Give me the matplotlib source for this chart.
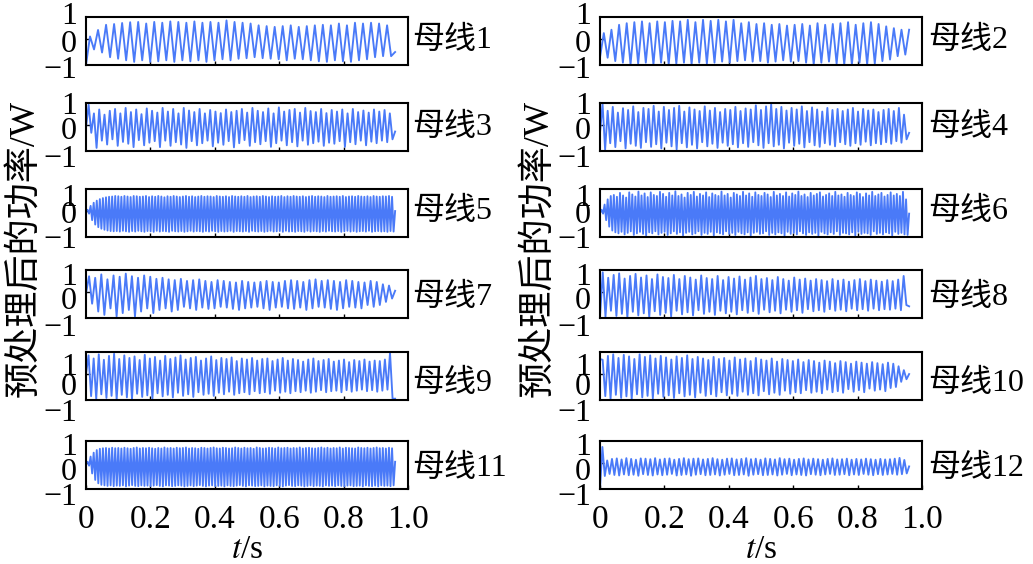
import numpy as np
import matplotlib.pyplot as plt

plt.rcParams['font.family'] = ['Liberation Serif', 'Noto Sans CJK SC']
plt.rcParams['mathtext.fontset'] = 'stix'

# 各母线预处理后的功率：逐周期读出的波峰/波谷值
T_END = 0.96

bus1_start, bus1_end = -1.0, -0.50
bus1_peaks = [0.10, 0.35, 0.55, 0.58, 0.62, 0.65, 0.66, 0.60, 0.66, 0.63,
              0.68, 0.66, 0.63, 0.68, 0.63, 0.66, 0.63, 0.72, 0.66, 0.63,
              0.60, 0.53, 0.50, 0.47, 0.50, 0.53, 0.47, 0.50, 0.53, 0.55,
              0.53, 0.60, 0.53, 0.63, 0.60, 0.63, 0.60, 0.53]
bus1_troughs = [-0.40, -0.52, -0.70, -0.76, -0.82, -0.88, -0.82, -0.88, -0.86, -0.82,
                -0.88, -0.82, -0.86, -0.82, -0.88, -0.82, -0.78, -0.82, -0.76, -0.74,
                -0.70, -0.74, -0.76, -0.78, -0.82, -0.76, -0.78, -0.82, -0.86, -0.88,
                -0.82, -0.86, -0.88, -0.82, -0.78, -0.70, -0.66, -0.66]

bus2_start, bus2_end = -0.70, 0.36
bus2_peaks = [0.23, 0.36, 0.55, 0.61, 0.65, 0.68, 0.61, 0.68, 0.65, 0.70,
              0.68, 0.74, 0.65, 0.74, 0.70, 0.74, 0.68, 0.74, 0.61, 0.65,
              0.58, 0.61, 0.55, 0.58, 0.52, 0.55, 0.58, 0.52, 0.61, 0.55,
              0.58, 0.61, 0.65, 0.55, 0.61, 0.65, 0.58, 0.49, 0.42, 0.36]
bus2_troughs = [-0.72, -0.85, -0.91, -0.98, -0.95, -0.91, -0.98, -0.91, -0.98, -0.95,
                -0.91, -0.98, -0.91, -0.95, -0.91, -0.87, -0.91, -0.85, -0.82, -0.87,
                -0.85, -0.91, -0.87, -0.82, -0.87, -0.85, -0.91, -0.98, -0.91, -0.87,
                -0.95, -0.98, -0.99, -0.91, -0.98, -0.95, -0.85, -0.79, -0.66, -0.60]

bus3_start, bus3_end = -0.10, -0.25
bus3_peaks = [0.78, 0.45, 0.60, 0.40, 0.55, 0.62, 0.45, 0.66, 0.50, 0.60,
              0.42, 0.64, 0.55, 0.48, 0.66, 0.52, 0.62, 0.45, 0.66, 0.56,
              0.50, 0.62, 0.45, 0.58, 0.52, 0.46, 0.60, 0.50, 0.55, 0.62,
              0.48, 0.66, 0.55, 0.50, 0.64, 0.45, 0.68, 0.52, 0.58, 0.62,
              0.48, 0.66, 0.54, 0.50, 0.62, 0.46, 0.58, 0.52, 0.60, 0.45,
              0.62, 0.50, 0.56, 0.48, 0.60, 0.52, 0.58, 0.45]
bus3_troughs = [-0.30, -0.88, -0.60, -0.75, -0.55, -0.80, -0.65, -0.72, -0.85, -0.58,
                -0.78, -0.68, -0.62, -0.85, -0.60, -0.80, -0.66, -0.75, -0.88, -0.62,
                -0.78, -0.70, -0.60, -0.82, -0.68, -0.76, -0.62, -0.86, -0.70, -0.58,
                -0.80, -0.66, -0.74, -0.62, -0.84, -0.70, -0.60, -0.78, -0.66, -0.82,
                -0.60, -0.76, -0.70, -0.64, -0.80, -0.68, -0.72, -0.62, -0.84, -0.66,
                -0.74, -0.60, -0.78, -0.64, -0.70, -0.60, -0.66, -0.55]

bus4_start, bus4_end = -0.30, -0.30
bus4_peaks = [0.82, 0.55, 0.70, 0.48, 0.65, 0.58, 0.72, 0.50, 0.66, 0.62,
              0.74, 0.52, 0.70, 0.58, 0.66, 0.74, 0.52, 0.68, 0.60, 0.54,
              0.72, 0.56, 0.66, 0.50, 0.62, 0.58, 0.70, 0.54, 0.64, 0.60,
              0.76, 0.58, 0.72, 0.80, 0.62, 0.70, 0.56, 0.66, 0.60, 0.72,
              0.54, 0.68, 0.60, 0.52, 0.66, 0.58, 0.62, 0.54, 0.60, 0.66,
              0.52, 0.62, 0.56, 0.60, 0.50, 0.58, 0.62, 0.54, 0.66, 0.40]
bus4_troughs = [-0.95, -0.70, -0.85, -0.62, -0.90, -0.72, -0.80, -0.88, -0.66, -0.84,
                -0.74, -0.90, -0.68, -0.82, -0.94, -0.70, -0.86, -0.76, -0.90, -0.66,
                -0.82, -0.72, -0.88, -0.68, -0.80, -0.74, -0.86, -0.70, -0.84, -0.66,
                -0.78, -0.88, -0.70, -0.82, -0.76, -0.90, -0.68, -0.80, -0.72, -0.86,
                -0.66, -0.78, -0.84, -0.70, -0.76, -0.82, -0.66, -0.74, -0.80, -0.70,
                -0.76, -0.64, -0.78, -0.70, -0.74, -0.66, -0.72, -0.62, -0.68, -0.55]

bus5_start, bus5_end = 0.0, 0.0
bus5_peaks = [0.05, 0.20, 0.32, 0.40, 0.46, 0.50, 0.53, 0.55, 0.56, 0.58,
              0.57, 0.55, 0.58, 0.56, 0.54, 0.58, 0.57, 0.55, 0.56, 0.58,
              0.54, 0.57, 0.55, 0.58, 0.56, 0.53, 0.57, 0.55, 0.58, 0.56,
              0.54, 0.56, 0.58, 0.55, 0.57, 0.54, 0.56, 0.58, 0.55, 0.57,
              0.56, 0.54, 0.58, 0.56, 0.55, 0.57, 0.54, 0.58, 0.56, 0.55,
              0.57, 0.55, 0.58, 0.54, 0.56, 0.57, 0.55, 0.58, 0.56, 0.54,
              0.57, 0.55, 0.56, 0.58, 0.54, 0.57, 0.55, 0.58, 0.56, 0.55,
              0.57, 0.54, 0.56, 0.58, 0.55, 0.57, 0.56, 0.54, 0.58, 0.55,
              0.56, 0.57, 0.55, 0.58, 0.54, 0.56, 0.57, 0.55, 0.58, 0.56,
              0.55, 0.57, 0.54, 0.58, 0.56, 0.55, 0.57, 0.56, 0.58, 0.55]
bus5_troughs = [-0.10, -0.35, -0.52, -0.62, -0.68, -0.72, -0.75, -0.77, -0.78, -0.77,
                -0.79, -0.76, -0.78, -0.80, -0.77, -0.79, -0.76, -0.78, -0.80, -0.77,
                -0.78, -0.80, -0.76, -0.79, -0.77, -0.78, -0.80, -0.76, -0.78, -0.79,
                -0.77, -0.80, -0.78, -0.76, -0.79, -0.77, -0.78, -0.80, -0.77, -0.79,
                -0.76, -0.78, -0.80, -0.77, -0.79, -0.78, -0.76, -0.80, -0.77, -0.78,
                -0.79, -0.77, -0.80, -0.76, -0.78, -0.79, -0.77, -0.80, -0.78, -0.76,
                -0.79, -0.78, -0.77, -0.80, -0.76, -0.79, -0.78, -0.80, -0.77, -0.78,
                -0.80, -0.76, -0.79, -0.77, -0.78, -0.80, -0.77, -0.79, -0.76, -0.78,
                -0.79, -0.77, -0.80, -0.78, -0.76, -0.79, -0.77, -0.80, -0.78, -0.77,
                -0.79, -0.76, -0.80, -0.78, -0.77, -0.79, -0.78, -0.80, -0.77, -0.79]

bus6_start, bus6_end = -0.05, -0.10
bus6_peaks = [0.05, 0.25, 0.45, 0.58, 0.62, 0.55, 0.70, 0.60, 0.52, 0.72,
              0.64, 0.56, 0.75, 0.60, 0.68, 0.54, 0.72, 0.62, 0.58, 0.74,
              0.66, 0.55, 0.70, 0.60, 0.76, 0.58, 0.64, 0.52, 0.70, 0.62,
              0.74, 0.56, 0.66, 0.60, 0.72, 0.54, 0.68, 0.62, 0.58, 0.75,
              0.60, 0.66, 0.52, 0.70, 0.64, 0.58, 0.74, 0.60, 0.68, 0.55,
              0.72, 0.62, 0.58, 0.70, 0.64, 0.54, 0.74, 0.60, 0.66, 0.58,
              0.72, 0.56, 0.68, 0.62, 0.75, 0.58, 0.64, 0.54, 0.70, 0.60,
              0.66, 0.72, 0.56, 0.62, 0.68, 0.58, 0.74, 0.60, 0.64, 0.55,
              0.70, 0.62, 0.58, 0.72, 0.66, 0.54, 0.68, 0.60, 0.74, 0.58,
              0.64, 0.70, 0.56, 0.62, 0.72, 0.60, 0.66, 0.58, 0.74, 0.45]
bus6_troughs = [-0.10, -0.35, -0.60, -0.75, -0.82, -0.86, -0.80, -0.90, -0.84, -0.78,
                -0.92, -0.86, -0.80, -0.88, -0.94, -0.82, -0.86, -0.78, -0.90, -0.84,
                -0.80, -0.92, -0.86, -0.78, -0.88, -0.82, -0.94, -0.84, -0.80, -0.90,
                -0.86, -0.78, -0.92, -0.84, -0.88, -0.80, -0.94, -0.82, -0.86, -0.90,
                -0.78, -0.88, -0.84, -0.92, -0.80, -0.86, -0.90, -0.82, -0.94, -0.84,
                -0.80, -0.88, -0.86, -0.78, -0.92, -0.84, -0.90, -0.82, -0.86, -0.94,
                -0.80, -0.88, -0.84, -0.90, -0.78, -0.86, -0.92, -0.82, -0.88, -0.84,
                -0.94, -0.80, -0.86, -0.90, -0.82, -0.88, -0.78, -0.92, -0.84, -0.86,
                -0.90, -0.82, -0.94, -0.80, -0.88, -0.84, -0.86, -0.92, -0.78, -0.88,
                -0.84, -0.90, -0.82, -0.86, -0.94, -0.80, -0.88, -0.84, -0.90, -0.92]

bus7_start, bus7_end = -0.05, 0.05
bus7_peaks = [0.61, 0.55, 0.68, 0.49, 0.64, 0.59, 0.71, 0.61, 0.55, 0.64,
              0.59, 0.51, 0.55, 0.49, 0.46, 0.51, 0.43, 0.46, 0.49, 0.43,
              0.39, 0.46, 0.43, 0.39, 0.37, 0.43, 0.39, 0.37, 0.39, 0.43,
              0.39, 0.37, 0.43, 0.46, 0.43, 0.39, 0.46, 0.49, 0.43, 0.46,
              0.43, 0.39, 0.46, 0.43, 0.39, 0.37, 0.43, 0.39, 0.30, 0.25]
bus7_troughs = [-0.45, -0.75, -0.88, -0.63, -0.94, -0.81, -0.69, -0.94, -0.75, -0.63,
                -0.81, -0.69, -0.63, -0.75, -0.69, -0.57, -0.63, -0.69, -0.60, -0.65,
                -0.63, -0.57, -0.60, -0.65, -0.69, -0.63, -0.60, -0.57, -0.63, -0.69,
                -0.60, -0.57, -0.63, -0.65, -0.60, -0.69, -0.63, -0.57, -0.60, -0.65,
                -0.69, -0.63, -0.57, -0.60, -0.63, -0.50, -0.57, -0.50, -0.38, -0.25]

bus8_start, bus8_end = -0.95, -0.55
bus8_peaks = [0.76, 0.55, 0.66, 0.72, 0.52, 0.62, 0.70, 0.56, 0.64, 0.50,
              0.68, 0.58, 0.54, 0.66, 0.50, 0.62, 0.56, 0.48, 0.64, 0.54,
              0.50, 0.62, 0.46, 0.58, 0.52, 0.60, 0.48, 0.56, 0.62, 0.50,
              0.54, 0.46, 0.58, 0.50, 0.44, 0.56, 0.48, 0.52, 0.44, 0.50,
              0.46, 0.42, 0.50, 0.44, 0.48, 0.40, 0.46, 0.50, 0.42, 0.48,
              0.44, 0.40, 0.46, 0.42, 0.48, 0.62]
bus8_troughs = [-0.95, -0.72, -0.92, -0.84, -0.98, -0.76, -0.90, -0.82, -0.96, -0.74,
                -0.88, -0.80, -0.94, -0.72, -0.86, -0.78, -0.90, -0.70, -0.84, -0.76,
                -0.88, -0.72, -0.82, -0.76, -0.86, -0.70, -0.80, -0.74, -0.84, -0.68,
                -0.78, -0.72, -0.82, -0.68, -0.76, -0.70, -0.80, -0.66, -0.74, -0.70,
                -0.76, -0.66, -0.72, -0.68, -0.74, -0.64, -0.70, -0.66, -0.72, -0.64,
                -0.70, -0.66, -0.68, -0.64, -0.70, -0.50]

bus9_start, bus9_end = 0.0, -0.95
bus9_peaks = [0.72, 0.60, 0.76, 0.55, 0.70, 0.78, 0.58, 0.72, 0.62, 0.68,
              0.54, 0.74, 0.60, 0.66, 0.52, 0.70, 0.58, 0.64, 0.72, 0.56,
              0.62, 0.66, 0.52, 0.60, 0.68, 0.54, 0.62, 0.58, 0.64, 0.50,
              0.60, 0.56, 0.62, 0.52, 0.58, 0.60, 0.50, 0.56, 0.62, 0.52,
              0.58, 0.54, 0.48, 0.56, 0.60, 0.50, 0.54, 0.58, 0.48, 0.52,
              0.56, 0.46, 0.54, 0.50, 0.56, 0.48, 0.52, 0.50, 0.56, 0.82]
bus9_troughs = [-0.85, -0.96, -0.78, -0.92, -0.84, -0.98, -0.80, -0.90, -0.96, -0.76,
                -0.88, -0.82, -0.94, -0.74, -0.86, -0.80, -0.90, -0.72, -0.84, -0.78,
                -0.88, -0.70, -0.80, -0.76, -0.84, -0.72, -0.78, -0.68, -0.80, -0.74,
                -0.70, -0.78, -0.66, -0.74, -0.70, -0.76, -0.64, -0.72, -0.68, -0.74,
                -0.66, -0.70, -0.64, -0.72, -0.68, -0.62, -0.70, -0.66, -0.64, -0.70,
                -0.62, -0.68, -0.64, -0.60, -0.66, -0.62, -0.68, -0.64, -0.60, -0.95]

bus10_start, bus10_end = 0.58, 0.0
bus10_peaks = [0.55, 0.70, 0.76, 0.62, 0.74, 0.68, 0.58, 0.76, 0.66, 0.72,
               0.60, 0.70, 0.64, 0.56, 0.68, 0.62, 0.72, 0.58, 0.66, 0.60,
               0.54, 0.66, 0.58, 0.62, 0.52, 0.64, 0.56, 0.60, 0.50, 0.62,
               0.56, 0.52, 0.60, 0.48, 0.58, 0.54, 0.50, 0.56, 0.46, 0.54,
               0.50, 0.44, 0.52, 0.48, 0.42, 0.50, 0.46, 0.40, 0.48, 0.44,
               0.40, 0.46, 0.42, 0.38, 0.44, 0.40, 0.30, 0.15]
bus10_troughs = [-0.85, -0.95, -0.80, -0.92, -0.86, -0.96, -0.78, -0.90, -0.84, -0.94,
                 -0.76, -0.88, -0.82, -0.92, -0.74, -0.86, -0.80, -0.90, -0.72, -0.84,
                 -0.78, -0.86, -0.70, -0.82, -0.76, -0.84, -0.68, -0.80, -0.74, -0.82,
                 -0.66, -0.78, -0.72, -0.80, -0.64, -0.76, -0.70, -0.74, -0.62, -0.72,
                 -0.68, -0.74, -0.60, -0.70, -0.66, -0.72, -0.58, -0.68, -0.62, -0.70,
                 -0.56, -0.64, -0.60, -0.66, -0.54, -0.50, -0.30, -0.20]

bus11_start, bus11_end = 0.0, 0.05
bus11_peaks = [0.05, 0.25, 0.40, 0.50, 0.55, 0.57, 0.58, 0.56, 0.59, 0.57,
               0.58, 0.56, 0.59, 0.57, 0.55, 0.58, 0.60, 0.56, 0.58, 0.57,
               0.59, 0.57, 0.55, 0.58, 0.56, 0.60, 0.57, 0.58, 0.56, 0.59,
               0.57, 0.58, 0.60, 0.56, 0.58, 0.57, 0.55, 0.59, 0.58, 0.56,
               0.58, 0.60, 0.57, 0.56, 0.59, 0.58, 0.56, 0.57, 0.60, 0.58,
               0.56, 0.59, 0.57, 0.58, 0.55, 0.60, 0.58, 0.56, 0.57, 0.59,
               0.58, 0.56, 0.60, 0.57, 0.58, 0.59, 0.56, 0.58, 0.57, 0.60,
               0.56, 0.58, 0.59, 0.57, 0.56, 0.58, 0.60, 0.57, 0.59, 0.56,
               0.58, 0.57, 0.60, 0.56, 0.59, 0.58, 0.57, 0.56, 0.60, 0.58,
               0.57, 0.59, 0.56, 0.58, 0.60, 0.57, 0.58, 0.56, 0.59, 0.57]
bus11_troughs = [-0.10, -0.40, -0.65, -0.78, -0.84, -0.86, -0.88, -0.86, -0.89, -0.87,
                 -0.88, -0.86, -0.90, -0.87, -0.85, -0.88, -0.89, -0.86, -0.88, -0.87,
                 -0.89, -0.87, -0.85, -0.88, -0.90, -0.86, -0.87, -0.89, -0.88, -0.86,
                 -0.87, -0.90, -0.88, -0.86, -0.89, -0.87, -0.85, -0.88, -0.90, -0.87,
                 -0.86, -0.89, -0.88, -0.87, -0.90, -0.86, -0.88, -0.89, -0.87, -0.85,
                 -0.88, -0.90, -0.86, -0.87, -0.89, -0.88, -0.86, -0.90, -0.87, -0.88,
                 -0.89, -0.86, -0.88, -0.90, -0.87, -0.85, -0.88, -0.89, -0.86, -0.87,
                 -0.90, -0.88, -0.86, -0.89, -0.87, -0.88, -0.90, -0.86, -0.88, -0.87,
                 -0.89, -0.86, -0.88, -0.90, -0.87, -0.86, -0.89, -0.88, -0.87, -0.90,
                 -0.86, -0.88, -0.89, -0.87, -0.90, -0.86, -0.88, -0.87, -0.89, -0.86]

bus12_start, bus12_end = -1.0, -0.13
bus12_peaks = [0.62, 0.10, 0.16, 0.18, 0.14, 0.19, 0.16, 0.13, 0.18, 0.17,
               0.15, 0.19, 0.14, 0.17, 0.18, 0.13, 0.16, 0.19, 0.15, 0.17,
               0.18, 0.14, 0.16, 0.19, 0.15, 0.13, 0.17, 0.18, 0.14, 0.16,
               0.19, 0.15, 0.17, 0.13, 0.18, 0.16, 0.14, 0.19, 0.15, 0.17,
               0.13, 0.16, 0.18, 0.14, 0.17, 0.15, 0.13, 0.16, 0.18, 0.14,
               0.15, 0.17, 0.13, 0.16, 0.14, 0.17, 0.15, 0.13, 0.16, 0.14,
               0.15, 0.17, 0.20, 0.12]
bus12_troughs = [-0.50, -0.42, -0.46, -0.48, -0.44, -0.47, -0.45, -0.49, -0.43, -0.46,
                 -0.48, -0.44, -0.47, -0.45, -0.42, -0.48, -0.46, -0.44, -0.49, -0.45,
                 -0.43, -0.47, -0.46, -0.44, -0.48, -0.45, -0.42, -0.47, -0.46, -0.44,
                 -0.49, -0.45, -0.43, -0.47, -0.46, -0.44, -0.48, -0.45, -0.42, -0.47,
                 -0.44, -0.46, -0.48, -0.43, -0.45, -0.47, -0.44, -0.42, -0.46, -0.45,
                 -0.43, -0.47, -0.44, -0.46, -0.42, -0.45, -0.47, -0.43, -0.46, -0.44,
                 -0.42, -0.45, -0.43, -0.40]

buses = [
    ('母线1', bus1_start, bus1_peaks, bus1_troughs, bus1_end),
    ('母线2', bus2_start, bus2_peaks, bus2_troughs, bus2_end),
    ('母线3', bus3_start, bus3_peaks, bus3_troughs, bus3_end),
    ('母线4', bus4_start, bus4_peaks, bus4_troughs, bus4_end),
    ('母线5', bus5_start, bus5_peaks, bus5_troughs, bus5_end),
    ('母线6', bus6_start, bus6_peaks, bus6_troughs, bus6_end),
    ('母线7', bus7_start, bus7_peaks, bus7_troughs, bus7_end),
    ('母线8', bus8_start, bus8_peaks, bus8_troughs, bus8_end),
    ('母线9', bus9_start, bus9_peaks, bus9_troughs, bus9_end),
    ('母线10', bus10_start, bus10_peaks, bus10_troughs, bus10_end),
    ('母线11', bus11_start, bus11_peaks, bus11_troughs, bus11_end),
    ('母线12', bus12_start, bus12_peaks, bus12_troughs, bus12_end),
]

x_ticks = [0, 0.2, 0.4, 0.6, 0.8, 1.0]
x_ticklabels = ['0', '0.2', '0.4', '0.6', '0.8', '1.0']
y_ticklabels = ['1', '0', '\u22121']


def wave(start, peaks, troughs, end):
    y = [start]
    for p, q in zip(peaks, troughs):
        y += [p, q]
    y.append(end)
    t = np.linspace(0, T_END, len(y))
    return t, np.array(y)


W, H = 1033, 564
fig = plt.figure(figsize=(W / 100, H / 100), dpi=100)

col_left = [86, 600]
row_top = [17, 103, 189, 270, 352, 441]
ax_w, ax_h = 322, 48
# 纵轴刻度文字中心相对于框顶的像素位置 (1, 0, -1)
lab_off = [(-4, 24, 50), (0, 25, 53), (6, 23, 48), (4, 28, 55), (12, 32, 58), (3, 28, 53)]

line_color = '#4a7af8'

for i, (name, start, peaks, troughs, end) in enumerate(buses):
    row, col = i // 2, i % 2
    ax = fig.add_axes([col_left[col] / W, 1 - (row_top[row] + ax_h) / H, ax_w / W, ax_h / H])
    t, y = wave(start, peaks, troughs, end)
    ax.plot(t, y, color=line_color, lw=1.35)
    ax.set_xlim(0, 1.0)
    ax.set_ylim(-1.0, 0.85)
    for s in ax.spines.values():
        s.set_linewidth(1.5)
    ax.set_yticks([0])
    ax.set_yticklabels([])
    ax.tick_params(axis='y', direction='in', length=3, width=1)
    ax.set_xticks(x_ticks[1:-1] if row < 5 else x_ticks)
    ax.tick_params(axis='x', direction='in', length=3, width=1, pad=11, labelsize=24)
    if row < 5:
        ax.set_xticklabels([])
    else:
        ax.set_xticklabels(x_ticklabels)
        ax.set_xlabel(r'$t$/s', fontsize=24, labelpad=0)
    for lab, off in zip(y_ticklabels, lab_off[row]):
        ax.text(-0.028, 1 - off / ax_h, lab, transform=ax.transAxes, ha='right',
                va='center_baseline', fontsize=23, clip_on=False)
    ax.text(1.012 if col == 0 else 1.018, 1 - (lab_off[row][1] - 1) / ax_h, name,
            transform=ax.transAxes, ha='left', va='center', fontsize=23, clip_on=False)

for xc in [24, 538]:
    fig.text(xc / W, 1 - 248 / H, '预处理后的功率/W', rotation=90, ha='center', va='center',
             fontsize=26)

fig.savefig('out.png', dpi=100)
